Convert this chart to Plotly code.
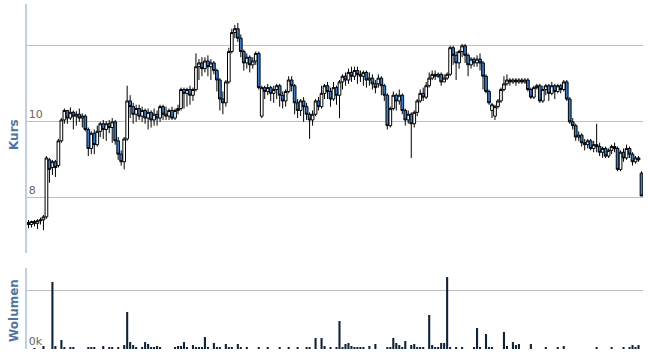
import plotly.graph_objects as go

opens = [7.35, 7.30, 7.38, 7.33, 7.40, 7.42, 7.50, 9.00, 8.80, 8.95,
         8.85, 9.50, 10.05, 10.30, 10.10, 10.25, 10.15, 10.20, 10.10, 10.15,
         9.80, 9.30, 9.70, 9.40, 9.75, 9.95, 9.80, 9.95, 9.85, 10.00,
         9.50, 9.15, 8.95, 9.55, 10.55, 10.40, 10.20, 10.35, 10.15, 10.30,
         10.10, 10.25, 10.05, 10.20, 10.10, 10.40, 10.20, 10.15, 10.30, 10.10,
         10.30, 10.35, 10.85, 10.75, 10.85, 10.70, 10.85, 11.45, 11.55, 11.40,
         11.60, 11.45, 11.55, 11.35, 11.10, 10.60, 10.50, 11.05, 11.85, 12.35,
         12.45, 12.20, 11.85, 11.55, 11.70, 11.50, 11.60, 11.80, 10.15, 10.90,
         10.80, 10.90, 10.75, 10.85, 10.95, 10.70, 10.55, 10.80, 11.10, 10.95,
         10.50, 10.30, 10.55, 10.40, 10.20, 10.05, 10.20, 10.55, 10.40, 10.75,
         10.95, 10.80, 10.60, 10.90, 10.70, 11.05, 11.20, 11.10, 11.30, 11.20,
         11.35, 11.25, 11.20, 11.30, 11.10, 11.15, 11.00, 11.00, 11.15, 10.95,
         10.70, 9.90, 10.35, 10.70, 10.55, 10.70, 10.30, 10.05, 10.20, 9.95,
         10.25, 10.55, 10.75, 10.65, 10.95, 11.15, 11.25, 11.20, 11.25, 11.05,
         11.15, 11.25, 11.95, 11.75, 11.55, 11.85, 12.00, 11.75, 11.50, 11.65,
         11.55, 11.65, 11.55, 11.20, 10.80, 10.30, 10.15, 10.40, 10.55, 10.85,
         11.00, 11.10, 11.05, 11.10, 11.05, 11.10, 11.05, 11.10, 10.85, 10.65,
         10.90, 10.95, 10.55, 10.85, 10.95, 10.75, 10.95, 10.80, 10.95, 10.85,
         11.05, 10.60, 10.00, 9.90, 9.60, 9.65, 9.45, 9.40, 9.50, 9.30,
         9.40, 9.35, 9.20, 9.30, 9.10, 9.25, 9.35, 9.30, 8.75, 9.20,
         9.05, 9.30, 9.15, 8.95, 9.05, 8.65]

closes = [7.30, 7.38, 7.33, 7.40, 7.42, 7.50, 9.05, 8.75, 8.95, 8.80,
          9.50, 10.05, 10.30, 10.10, 10.25, 10.15, 10.20, 10.10, 10.15, 9.80,
          9.30, 9.70, 9.40, 9.75, 9.95, 9.80, 9.95, 9.85, 10.00, 9.50,
          9.15, 8.95, 9.55, 10.55, 10.40, 10.20, 10.35, 10.15, 10.30, 10.10,
          10.25, 10.05, 10.20, 10.10, 10.40, 10.20, 10.15, 10.30, 10.10, 10.30,
          10.35, 10.85, 10.75, 10.85, 10.70, 10.85, 11.45, 11.55, 11.40, 11.60,
          11.45, 11.55, 11.35, 11.10, 10.60, 10.50, 11.05, 11.85, 12.35, 12.45,
          12.20, 11.85, 11.55, 11.70, 11.50, 11.60, 11.80, 10.90, 10.90, 10.80,
          10.90, 10.75, 10.85, 10.95, 10.70, 10.55, 10.80, 11.10, 10.95, 10.50,
          10.30, 10.55, 10.40, 10.20, 10.05, 10.20, 10.55, 10.40, 10.75, 10.95,
          10.80, 10.60, 10.90, 10.70, 11.05, 11.20, 11.10, 11.30, 11.20, 11.35,
          11.25, 11.20, 11.30, 11.10, 11.15, 11.00, 10.90, 11.15, 10.95, 10.70,
          9.90, 10.35, 10.70, 10.55, 10.70, 10.30, 10.05, 10.20, 9.95, 10.25,
          10.55, 10.75, 10.65, 10.95, 11.15, 11.25, 11.20, 11.25, 11.05, 11.15,
          11.25, 11.95, 11.75, 11.55, 11.85, 12.00, 11.75, 11.50, 11.65, 11.55,
          11.65, 11.55, 11.20, 10.80, 10.50, 10.45, 10.40, 10.55, 10.85, 11.00,
          11.10, 11.05, 11.10, 11.05, 11.10, 11.05, 11.10, 10.85, 10.65, 10.90,
          10.95, 10.55, 10.85, 10.95, 10.75, 10.95, 10.80, 10.95, 10.85, 11.05,
          10.60, 10.00, 9.90, 9.60, 9.65, 9.45, 9.40, 9.50, 9.30, 9.40,
          9.35, 9.20, 9.30, 9.10, 9.25, 9.35, 9.30, 8.75, 9.20, 9.05,
          9.30, 9.15, 8.95, 9.05, 9.00, 8.05]

highs = [7.42, 7.40, 7.42, 7.44, 7.48, 7.55, 9.10, 9.05, 9.00, 9.00,
         9.55, 10.10, 10.35, 10.30, 10.38, 10.30, 10.28, 10.35, 10.22, 10.20,
         9.85, 9.75, 9.80, 9.90, 10.00, 10.05, 10.02, 10.05, 10.10, 10.05,
         9.60, 9.25, 9.60, 10.95, 10.70, 10.50, 10.45, 10.45, 10.40, 10.35,
         10.35, 10.30, 10.35, 10.30, 10.45, 10.45, 10.40, 10.35, 10.40, 10.35,
         10.45, 10.90, 10.90, 10.90, 10.95, 10.90, 11.80, 11.65, 11.70, 11.70,
         11.75, 11.65, 11.60, 11.40, 11.15, 10.80, 11.10, 11.95, 12.45, 12.55,
         12.60, 12.30, 11.90, 11.80, 11.75, 11.70, 11.85, 11.85, 10.95, 10.95,
         11.00, 10.95, 10.95, 11.00, 11.00, 10.80, 10.85, 11.20, 11.20, 11.00,
         10.60, 10.60, 10.65, 10.50, 10.25, 10.30, 10.60, 10.65, 10.95, 11.00,
         11.05, 10.90, 11.05, 10.95, 11.10, 11.25, 11.30, 11.40, 11.45, 11.45,
         11.45, 11.35, 11.35, 11.35, 11.30, 11.25, 11.10, 11.25, 11.20, 11.00,
         10.75, 10.40, 10.80, 10.75, 10.85, 10.75, 10.35, 10.30, 10.25, 10.30,
         10.60, 10.85, 10.90, 11.05, 11.30, 11.35, 11.35, 11.30, 11.30, 11.25,
         11.30, 12.00, 12.00, 11.85, 11.90, 12.05, 12.05, 11.80, 11.70, 11.70,
         11.75, 11.80, 11.60, 11.25, 10.85, 10.50, 10.45, 10.60, 10.90, 11.20,
         11.25, 11.15, 11.15, 11.15, 11.15, 11.15, 11.15, 11.15, 10.90, 10.95,
         11.00, 11.00, 10.95, 11.00, 11.00, 11.05, 11.00, 11.00, 11.00, 11.10,
         11.10, 10.65, 10.10, 9.95, 9.75, 9.70, 9.55, 9.55, 9.55, 9.50,
         9.95, 9.45, 9.35, 9.35, 9.30, 9.40, 9.45, 9.35, 9.25, 9.30,
         9.40, 9.35, 9.20, 9.10, 9.10, 8.70]

lows = [7.20, 7.22, 7.25, 7.18, 7.30, 7.15, 7.45, 8.40, 8.60, 8.55,
        8.80, 9.45, 9.95, 9.95, 10.05, 9.80, 9.90, 10.00, 9.85, 9.75,
        9.10, 9.15, 9.15, 9.35, 9.60, 9.55, 9.50, 9.70, 9.45, 9.40,
        9.00, 8.85, 8.75, 9.50, 10.10, 9.95, 10.00, 10.05, 10.00, 9.95,
        9.80, 9.85, 9.90, 9.90, 10.00, 10.05, 10.05, 10.05, 10.05, 10.05,
        10.20, 10.30, 10.35, 10.40, 10.45, 10.55, 10.80, 11.10, 11.20, 11.30,
        11.20, 11.10, 11.25, 10.80, 10.30, 10.20, 10.40, 11.00, 11.80, 12.20,
        12.10, 11.70, 11.35, 11.40, 11.30, 11.40, 11.50, 10.85, 10.10, 10.60,
        10.70, 10.55, 10.50, 10.60, 10.40, 10.35, 10.40, 10.75, 10.80, 10.20,
        10.10, 10.15, 10.00, 10.05, 9.55, 9.90, 10.15, 10.30, 10.35, 10.60,
        10.60, 10.40, 10.55, 10.45, 10.10, 10.85, 10.95, 11.00, 11.05, 11.10,
        11.00, 11.05, 10.95, 10.90, 10.95, 10.85, 10.75, 10.90, 10.70, 10.55,
        9.80, 9.85, 10.30, 10.30, 10.45, 10.20, 9.90, 9.95, 9.05, 9.85,
        10.15, 10.50, 10.55, 10.60, 10.90, 11.10, 11.10, 11.15, 10.95, 11.05,
        11.10, 11.20, 11.50, 11.10, 11.40, 11.70, 11.55, 11.20, 11.40, 11.45,
        11.45, 11.35, 10.85, 10.75, 10.45, 10.10, 10.05, 10.35, 10.50, 10.80,
        10.95, 10.95, 11.00, 10.95, 11.00, 11.00, 11.00, 10.80, 10.60, 10.60,
        10.85, 10.50, 10.50, 10.70, 10.55, 10.70, 10.60, 10.75, 10.75, 10.80,
        10.55, 9.95, 9.80, 9.50, 9.50, 9.35, 9.25, 9.30, 9.25, 9.20,
        9.20, 9.10, 9.05, 9.05, 9.05, 9.15, 9.20, 8.70, 8.70, 8.95,
        9.00, 9.05, 8.85, 8.90, 8.95, 8.05]

volumes = [0, 0, 800, 0, 0, 2600, 0, 0, 57800, 2600,
           0, 7800, 1700, 0, 900, 900, 0, 0, 0, 0,
           900, 900, 900, 0, 0, 2600, 0, 1700, 1700, 0,
           900, 0, 3400, 31900, 6000, 3400, 1700, 0, 900, 6000,
           4300, 1700, 900, 2600, 1700, 0, 0, 0, 0, 900,
           2600, 2600, 6000, 900, 0, 3400, 900, 900, 900, 10300,
           900, 0, 5200, 900, 900, 0, 4300, 1700, 900, 0,
           4300, 900, 0, 1700, 0, 0, 0, 1700, 0, 0,
           900, 0, 0, 0, 1700, 0, 0, 900, 0, 0,
           900, 0, 0, 1700, 900, 0, 9500, 0, 9500, 2600,
           0, 1700, 0, 900, 24100, 1700, 4300, 5200, 2600, 900,
           900, 900, 1700, 0, 2600, 0, 4300, 0, 0, 0,
           900, 900, 9500, 5200, 3400, 900, 6900, 0, 3400, 4300,
           900, 900, 900, 0, 29300, 3400, 1700, 900, 5200, 5200,
           62000, 900, 0, 1700, 0, 1700, 0, 0, 0, 900,
           18100, 900, 0, 12900, 900, 900, 0, 0, 0, 14700,
           2600, 0, 6000, 3400, 4300, 0, 0, 0, 4300, 0,
           0, 0, 0, 900, 0, 0, 0, 900, 0, 2600,
           0, 0, 0, 0, 0, 0, 0, 0, 0, 0,
           1700, 0, 0, 0, 0, 900, 0, 0, 0, 900,
           0, 900, 3400, 900, 3400, 0]

price_ticks = [8, 10, 12]
price_tick_labels = ["8", "10", ""]
volume_ticks = [0, 50000]
volume_tick_labels = ["0k", ""]

n = len(closes)
xs = list(range(n))

fig = go.Figure()
fig.add_trace(go.Candlestick(
    x=xs, open=opens, high=highs, low=lows, close=closes,
    increasing=dict(fillcolor="#ffffff", line=dict(color="#000000", width=1)),
    decreasing=dict(fillcolor="#2f7ed8", line=dict(color="#000000", width=1)),
    whiskerwidth=0, showlegend=False, hoverinfo="skip",
    xaxis="x", yaxis="y",
))
fig.add_trace(go.Bar(
    x=xs, y=volumes, marker=dict(color="#0d233a", line=dict(width=0)),
    showlegend=False, xaxis="x2", yaxis="y2",
))

H = 345.0
fig.update_layout(
    width=648, height=358,
    margin=dict(l=27, r=5, t=4, b=9),
    paper_bgcolor="white", plot_bgcolor="white",
    bargap=0.3,
    boxgap=0.1,
    boxgroupgap=0.0,
    xaxis=dict(domain=[0, 1], range=[-0.5, n - 0.5], anchor="y",
               showticklabels=False, showgrid=False, zeroline=False,
               showline=False, ticks="", rangeslider=dict(visible=False)),
    xaxis2=dict(domain=[0, 1], range=[-0.5, n - 0.5], anchor="y2", matches="x",
                showticklabels=False, showgrid=False, zeroline=False,
                showline=False, ticks=""),
    yaxis=dict(domain=[(349 - 253) / H, 1], range=[6.55, 13.1],
               tickvals=price_ticks, ticktext=price_tick_labels,
               ticklabelposition="inside top",
               tickfont=dict(family="DejaVu Sans", size=11, color="#666666"),
               showgrid=True, gridcolor="#C0C0C0", gridwidth=1,
               zeroline=False, showline=True, linecolor="#C0D0E0", linewidth=2,
               ticks=""),
    yaxis2=dict(domain=[0, (349 - 268) / H], range=[0, 69800],
                tickvals=volume_ticks, ticktext=volume_tick_labels,
                ticklabelposition="inside top",
                tickfont=dict(family="DejaVu Sans", size=11, color="#666666"),
                showgrid=True, gridcolor="#C0C0C0", gridwidth=1,
                zeroline=False, showline=True, linecolor="#C0D0E0", linewidth=2,
                ticks=""),
    annotations=[
        dict(text="<b>Kurs</b>", xref="paper", yref="paper", x=0,
             y=(349 - 135) / H, xanchor="center", yanchor="middle",
             xshift=-13, textangle=-90, showarrow=False,
             font=dict(family="DejaVu Sans", size=12, color="#4d759e")),
        dict(text="<b>Wolumen</b>", xref="paper", yref="paper", x=0,
             y=(349 - 311) / H, xanchor="center", yanchor="middle",
             xshift=-13, textangle=-90, showarrow=False,
             font=dict(family="DejaVu Sans", size=12, color="#4d759e")),
    ],
)

fig.write_html("out.html")
